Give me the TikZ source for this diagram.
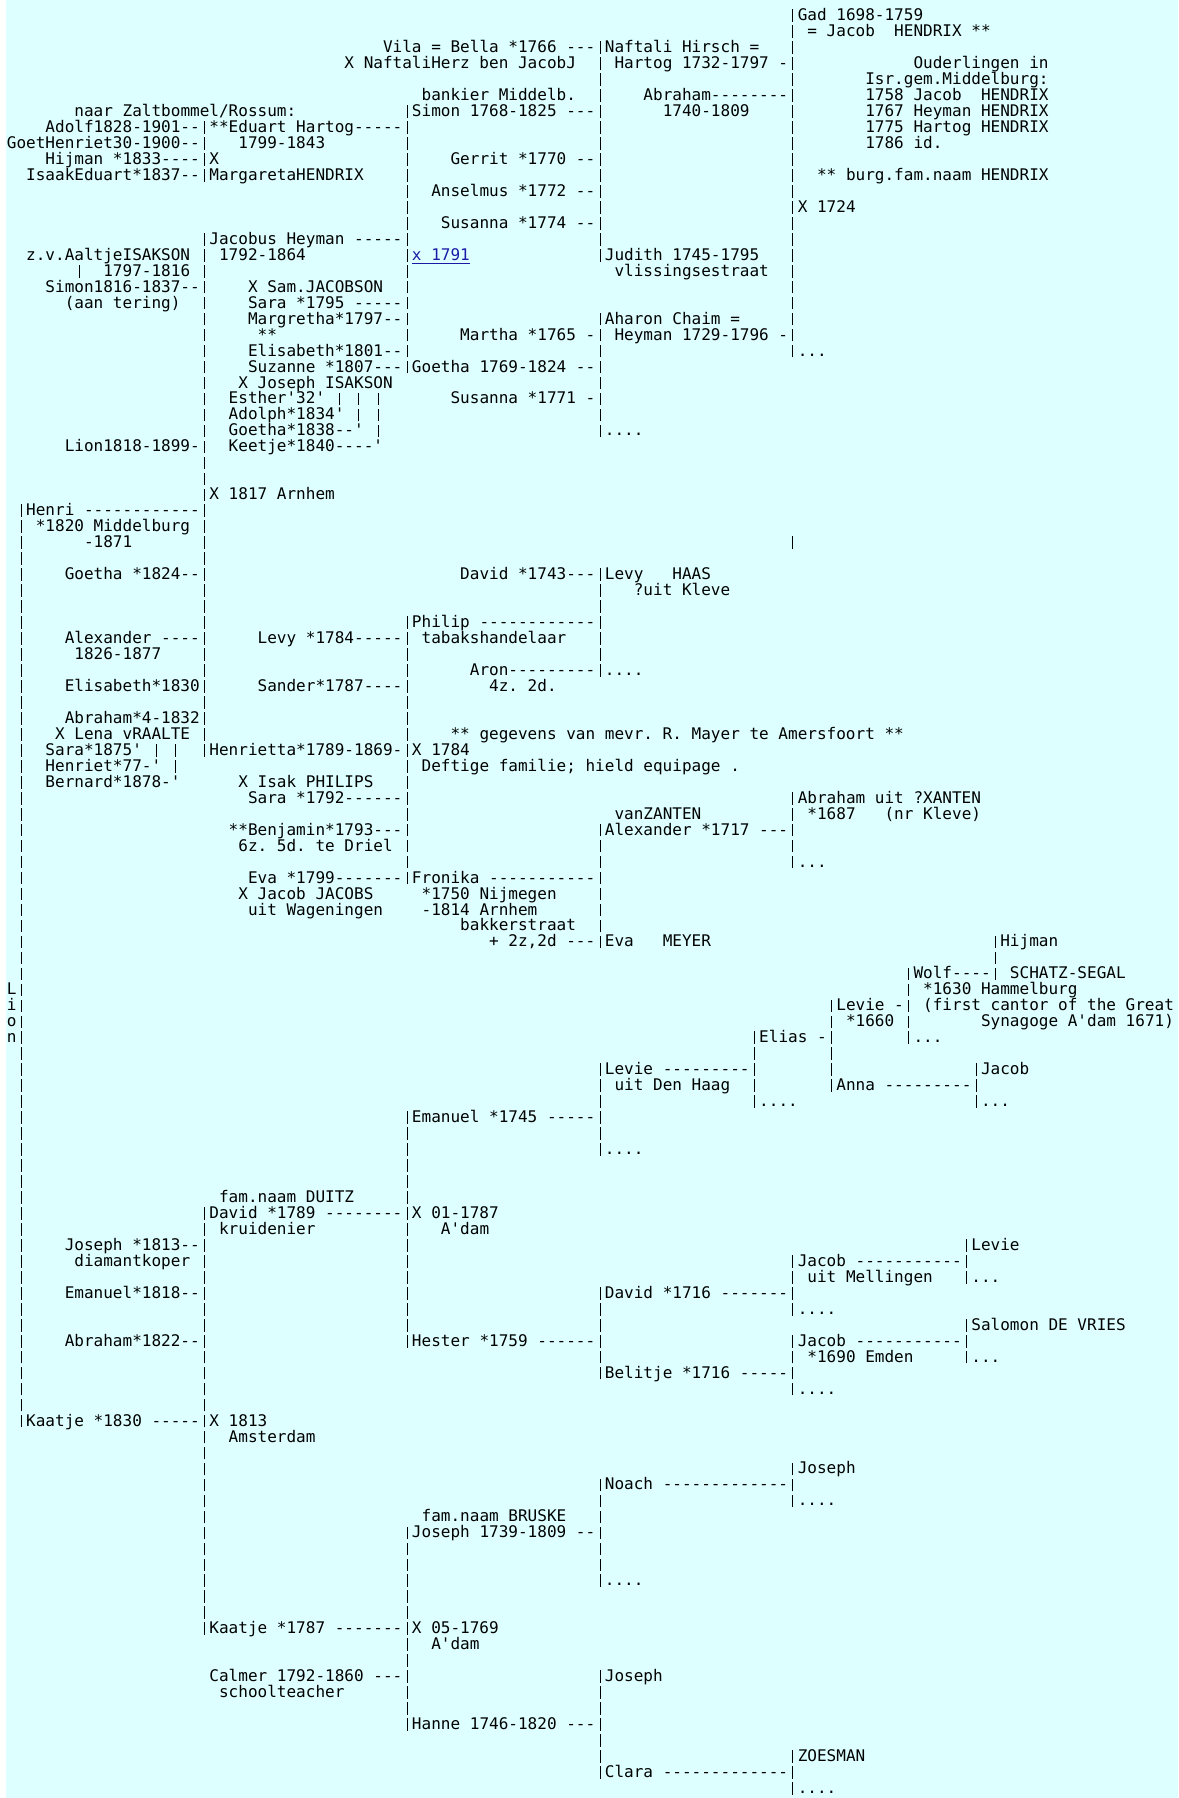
\documentclass[tikz,border=0pt]{standalone}
\usepackage{fontspec}
\usepackage{xcolor}
\newfontfamily\treefont{DejaVu Sans Mono}
\definecolor{bgcyan}{HTML}{DDFFFF}
\definecolor{linkblue}{HTML}{1A1AA6}
% the bar of the text tree, shorter than the font's own one
\newcommand\treebar{\hbox to 0.60205em{\hss\vrule width 0.5pt height 5.65pt depth 0.65pt\hss}}

\begin{document}
\begingroup
\catcode`\|=\active
\protected\def|{\treebar}
\begin{tikzpicture}[x=4.8225pt, y=-7.985pt,
    txt/.style={anchor=base west, inner sep=0pt,
      font=\treefont\fontsize{8.01pt}{8pt}\selectfont\frenchspacing}]
  \useasboundingbox (-3.25pt,10.35pt) rectangle (585.75pt,-888.65pt);
  \fill[bgcyan] (-0.1pt,10.35pt) rectangle (585.75pt,-888.65pt);
  % tree lines: row/column/text
  \foreach \r/\c/\t in {
    0/81/{|Gad 1698-1759},
    1/81/{| = Jacob~~HENDRIX **},
    2/39/{Vila = Bella *1766 ---|Naftali Hirsch =}, 2/81/{|},
    3/35/{X NaftaliHerz ben JacobJ}, 3/61/{| Hartog 1732-1797 -|}, 3/94/{Ouderlingen in},
    4/61/{|}, 4/81/{|}, 4/89/{Isr.gem.Middelburg:},
    5/43/{bankier Middelb.}, 5/61/{|}, 5/66/{Abraham--------|}, 5/89/{1758 Jacob~~HENDRIX},
    6/7/{naar Zaltbommel/Rossum:}, 6/41/{|Simon 1768-1825 ---|}, 6/68/{1740-1809}, 6/81/{|}, 6/89/{1767 Heyman HENDRIX},
    7/4/{Adolf1828-1901--|**Eduart Hartog-----|}, 7/61/{|}, 7/81/{|}, 7/89/{1775 Hartog HENDRIX},
    8/0/{GoetHenriet30-1900--|}, 8/24/{1799-1843}, 8/41/{|}, 8/61/{|}, 8/81/{|}, 8/89/{1786 id.},
    9/4/{Hijman *1833----|X}, 9/41/{|}, 9/46/{Gerrit *1770 --|}, 9/81/{|},
    10/2/{IsaakEduart*1837--|MargaretaHENDRIX}, 10/41/{|}, 10/61/{|}, 10/81/{|}, 10/84/{** burg.fam.naam HENDRIX},
    11/41/{|}, 11/44/{Anselmus *1772 --|}, 11/81/{|},
    12/41/{|}, 12/61/{|}, 12/81/{|X 1724},
    13/41/{|}, 13/45/{Susanna *1774 --|}, 13/81/{|},
    14/20/{|Jacobus Heyman -----|}, 14/61/{|}, 14/81/{|},
    15/2/{z.v.AaltjeISAKSON | 1792-1864}, 15/41/{|}, 15/61/{|Judith 1745-1795}, 15/81/{|},
    16/7/{|~~1797-1816 |}, 16/41/{|}, 16/63/{vlissingsestraat}, 16/81/{|},
    17/4/{Simon1816-1837--|}, 17/25/{X Sam.JACOBSON}, 17/41/{|}, 17/81/{|},
    18/6/{(aan tering)}, 18/20/{|}, 18/25/{Sara *1795 -----|}, 18/81/{|},
    19/20/{|}, 19/25/{Margretha*1797--|}, 19/61/{|Aharon Chaim =}, 19/81/{|},
    20/20/{|}, 20/26/{**}, 20/41/{|}, 20/47/{Martha *1765 -| Heyman 1729-1796 -|},
    21/20/{|}, 21/25/{Elisabeth*1801--|}, 21/61/{|}, 21/81/{|...},
    22/20/{|}, 22/25/{Suzanne *1807---|Goetha 1769-1824 --|},
    23/20/{|}, 23/24/{X Joseph ISAKSON}, 23/61/{|},
    24/20/{|}, 24/23/{Esther'32' | | |}, 24/46/{Susanna *1771 -|},
    25/20/{|}, 25/23/{Adolph*1834' | |}, 25/61/{|},
    26/20/{|}, 26/23/{Goetha*1838--' |}, 26/61/{|....},
    27/6/{Lion1818-1899-|}, 27/23/{Keetje*1840----'},
    28/20/{|},
    29/20/{|},
    30/20/{|X 1817 Arnhem},
    31/1/{|Henri ------------|},
    32/1/{|}, 32/3/{*1820 Middelburg |},
    33/1/{|}, 33/8/{-1871}, 33/20/{|}, 33/81/{|},
    34/1/{|}, 34/20/{|},
    35/1/{|}, 35/6/{Goetha *1824--|}, 35/47/{David *1743---|Levy~~~HAAS},
    36/1/{|}, 36/20/{|}, 36/61/{|}, 36/65/{?uit Kleve},
    37/1/{|}, 37/20/{|}, 37/61/{|},
    38/1/{|}, 38/20/{|}, 38/41/{|Philip ------------|},
    39/1/{|}, 39/6/{Alexander ----|}, 39/26/{Levy *1784-----| tabakshandelaar}, 39/61/{|},
    40/1/{|}, 40/7/{1826-1877}, 40/20/{|}, 40/41/{|}, 40/61/{|},
    41/1/{|}, 41/20/{|}, 41/41/{|}, 41/48/{Aron---------|....},
    42/1/{|}, 42/6/{Elisabeth*1830|}, 42/26/{Sander*1787----|}, 42/50/{4z. 2d.},
    43/1/{|}, 43/20/{|}, 43/41/{|},
    44/1/{|}, 44/6/{Abraham*4-1832|}, 44/41/{|},
    45/1/{|}, 45/5/{X Lena vRAALTE |}, 45/41/{|}, 45/46/{** gegevens van mevr. R. Mayer te Amersfoort **},
    46/1/{|}, 46/4/{Sara*1875' | |}, 46/20/{|Henrietta*1789-1869-|X 1784},
    47/1/{|}, 47/4/{Henriet*77-' |}, 47/41/{| Deftige familie; hield equipage .},
    48/1/{|}, 48/4/{Bernard*1878-'}, 48/24/{X Isak PHILIPS}, 48/41/{|},
    49/1/{|}, 49/25/{Sara *1792------|}, 49/81/{|Abraham uit ?XANTEN},
    50/1/{|}, 50/41/{|}, 50/63/{vanZANTEN}, 50/81/{| *1687~~~(nr Kleve)},
    51/1/{|}, 51/23/{**Benjamin*1793---|}, 51/61/{|Alexander *1717 ---|},
    52/1/{|}, 52/24/{6z. 5d. te Driel |}, 52/61/{|}, 52/81/{|},
    53/1/{|}, 53/41/{|}, 53/61/{|}, 53/81/{|...},
    54/1/{|}, 54/25/{Eva *1799-------|Fronika -----------|},
    55/1/{|}, 55/24/{X Jacob JACOBS}, 55/43/{*1750 Nijmegen}, 55/61/{|},
    56/1/{|}, 56/25/{uit Wageningen}, 56/43/{-1814 Arnhem}, 56/61/{|},
    57/1/{|}, 57/47/{bakkerstraat}, 57/61/{|},
    58/1/{|}, 58/50/{+ 2z,2d ---|Eva~~~MEYER}, 58/102/{|Hijman},
    59/1/{|}, 59/102/{|},
    60/1/{|}, 60/93/{|Wolf----| SCHATZ-SEGAL},
    61/0/{L|}, 61/93/{| *1630 Hammelburg},
    62/0/{i|}, 62/85/{|Levie -| (first cantor of the Great},
    63/0/{o|}, 63/85/{| *1660 |}, 63/101/{Synagoge A'dam 1671)},
    64/0/{n|}, 64/77/{|Elias -|}, 64/93/{|...},
    65/1/{|}, 65/77/{|}, 65/85/{|},
    66/1/{|}, 66/61/{|Levie ---------|}, 66/85/{|}, 66/100/{|Jacob},
    67/1/{|}, 67/61/{| uit Den Haag}, 67/77/{|}, 67/85/{|Anna ---------|},
    68/1/{|}, 68/61/{|}, 68/77/{|....}, 68/100/{|...},
    69/1/{|}, 69/41/{|Emanuel *1745 -----|},
    70/1/{|}, 70/41/{|}, 70/61/{|},
    71/1/{|}, 71/41/{|}, 71/61/{|....},
    72/1/{|}, 72/41/{|},
    73/1/{|}, 73/41/{|},
    74/1/{|}, 74/22/{fam.naam DUITZ}, 74/41/{|},
    75/1/{|}, 75/20/{|David *1789 --------|X 01-1787},
    76/1/{|}, 76/20/{| kruidenier}, 76/41/{|}, 76/45/{A'dam},
    77/1/{|}, 77/6/{Joseph *1813--|}, 77/41/{|}, 77/99/{|Levie},
    78/1/{|}, 78/7/{diamantkoper |}, 78/41/{|}, 78/81/{|Jacob -----------|},
    79/1/{|}, 79/20/{|}, 79/41/{|}, 79/81/{| uit Mellingen}, 79/99/{|...},
    80/1/{|}, 80/6/{Emanuel*1818--|}, 80/41/{|}, 80/61/{|David *1716 -------|},
    81/1/{|}, 81/20/{|}, 81/41/{|}, 81/61/{|}, 81/81/{|....},
    82/1/{|}, 82/20/{|}, 82/41/{|}, 82/61/{|}, 82/99/{|Salomon DE VRIES},
    83/1/{|}, 83/6/{Abraham*1822--|}, 83/41/{|Hester *1759 ------|}, 83/81/{|Jacob -----------|},
    84/1/{|}, 84/20/{|}, 84/61/{|}, 84/81/{| *1690 Emden}, 84/99/{|...},
    85/1/{|}, 85/20/{|}, 85/61/{|Belitje *1716 -----|},
    86/1/{|}, 86/20/{|}, 86/81/{|....},
    87/1/{|}, 87/20/{|},
    88/1/{|Kaatje *1830 -----|X 1813},
    89/20/{|}, 89/23/{Amsterdam},
    90/20/{|},
    91/20/{|}, 91/81/{|Joseph},
    92/20/{|}, 92/61/{|Noach -------------|},
    93/20/{|}, 93/61/{|}, 93/81/{|....},
    94/20/{|}, 94/43/{fam.naam BRUSKE}, 94/61/{|},
    95/20/{|}, 95/41/{|Joseph 1739-1809 --|},
    96/20/{|}, 96/41/{|}, 96/61/{|},
    97/20/{|}, 97/41/{|}, 97/61/{|},
    98/20/{|}, 98/41/{|}, 98/61/{|....},
    99/20/{|}, 99/41/{|},
    100/20/{|}, 100/41/{|},
    101/20/{|Kaatje *1787 -------|X 05-1769},
    102/41/{|}, 102/44/{A'dam},
    103/41/{|},
    104/21/{Calmer 1792-1860 ---|}, 104/61/{|Joseph},
    105/22/{schoolteacher}, 105/41/{|}, 105/61/{|},
    106/41/{|}, 106/61/{|},
    107/41/{|Hanne 1746-1820 ---|},
    108/61/{|},
    109/61/{|}, 109/81/{|ZOESMAN},
    110/61/{|Clara -------------|},
    111/81/{|....}
  } \node[txt] (t\r-\c) at (\c,\r) {\t};
  % link
  \node[txt, text=linkblue] (link) at (42,15) {\underline{x 1791}};
\end{tikzpicture}
\endgroup
\end{document}
